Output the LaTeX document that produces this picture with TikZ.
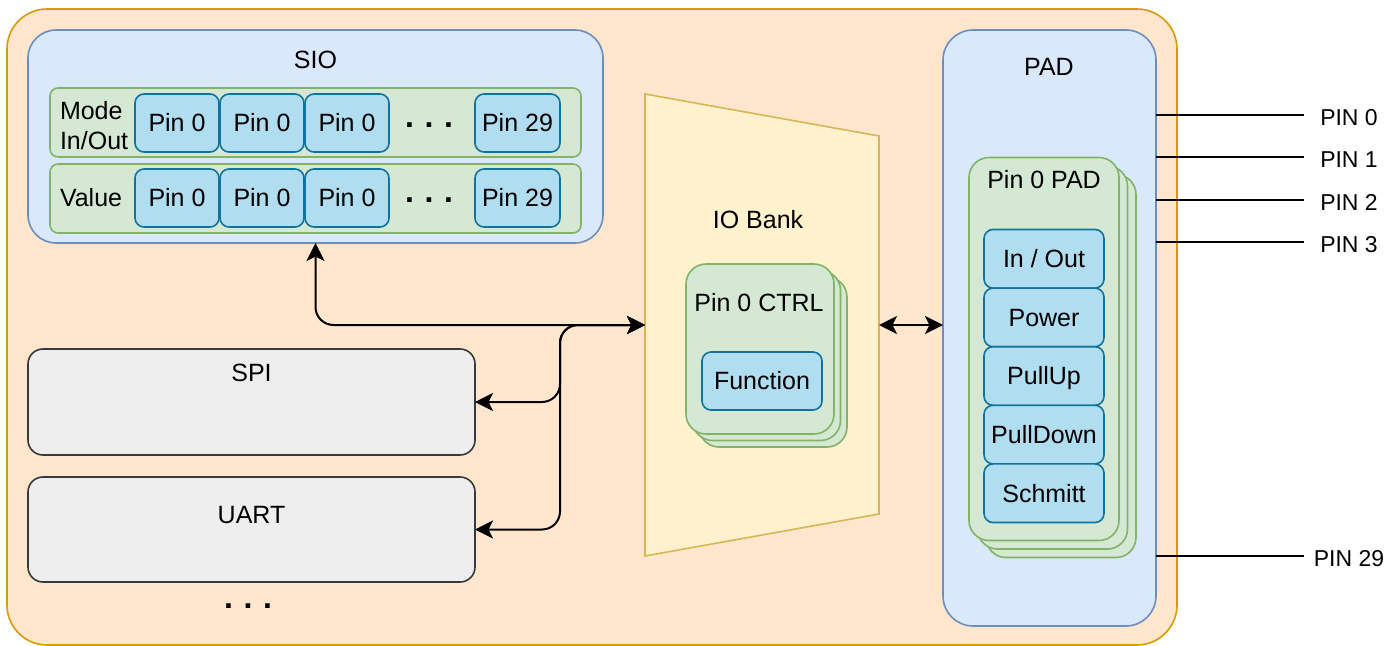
\documentclass[tikz,border=0pt]{standalone}
\usepackage{fontspec}
\setmainfont{Liberation Sans}
\usetikzlibrary{arrows.meta}
\definecolor{orF}{HTML}{FFE6CC}\definecolor{orS}{HTML}{D79B00}
\definecolor{blF}{HTML}{DAE8FC}\definecolor{blS}{HTML}{6C8EBF}
\definecolor{grF}{HTML}{D5E8D4}\definecolor{grS}{HTML}{82B366}
\definecolor{cyF}{HTML}{B1DDF0}\definecolor{cyS}{HTML}{10739E}
\definecolor{gyF}{HTML}{EEEEEE}\definecolor{gyS}{HTML}{36393D}
\definecolor{yeF}{HTML}{FFF2CC}\definecolor{yeS}{HTML}{D6B656}
\begin{document}
\begin{tikzpicture}[x=1pt,y=1pt,
  every node/.style={inner sep=0pt, outer sep=0pt},
  lbl/.style={font=\fontsize{25}{30}\selectfont, text height=17.9pt, text depth=0pt},
  pinlbl/.style={font=\fontsize{23}{28}\selectfont, text height=16.5pt, text depth=0pt},
  dots/.style={font=\fontsize{32}{36}\selectfont\bfseries, anchor=base},
  sz/.style 2 args={minimum width=#1, minimum height=#2},
  orangeb/.style={draw=orS, fill=orF, line width=1.6pt, rounded corners=40pt},
  blueb/.style={draw=blS, fill=blF, line width=1.6pt},
  greenb/.style={draw=grS, fill=grF, line width=1.6pt},
  cyanb/.style={draw=cyS, fill=cyF, line width=1.6pt, rounded corners=9pt},
  greyb/.style={draw=gyS, fill=gyF, line width=1.6pt, rounded corners=15pt},
  yelb/.style={draw=yeS, fill=yeF, line width=1.6pt},
  conn/.style={line width=2pt, rounded corners=18pt},
  wire/.style={line width=2pt},
  >={Stealth[length=18pt,width=18pt,inset=4.5pt]}
]
\useasboundingbox (0,0) rectangle (1388,-645);

% outer container
\node[orangeb, sz={1170pt}{636pt}] (outer) at (592,-327) {};

% SIO
\node[blueb, rounded corners=28pt, sz={575pt}{213pt}] (sio) at (315.5,-136.5) {};
\node[lbl] (siot) at (315.5,-60) {SIO};
\node[greenb, rounded corners=8pt, sz={531pt}{69pt}] (row1) at (315.5,-122.5) {};
\node[greenb, rounded corners=8pt, sz={531pt}{69pt}] (row2) at (315.5,-198.5) {};
\node[lbl, align=left, text height=, text depth=, anchor=west] (model) at (60,-125.5) {Mode\\In/Out};
\node[lbl, anchor=west] (valuel) at (60,-198) {Value};
\node[cyanb, lbl, sz={84pt}{58pt}] (a1) at (177,-123) {Pin 0};
\node[cyanb, lbl, sz={84pt}{58pt}] (a2) at (262,-123) {Pin 0};
\node[cyanb, lbl, sz={84pt}{58pt}] (a3) at (347,-123) {Pin 0};
\node[dots] (ad) at (429,-127) {.\,\,.\,\,.};
\node[cyanb, lbl, sz={85pt}{58pt}] (a29) at (517.5,-123) {Pin 29};
\node[cyanb, lbl, sz={84pt}{58pt}] (b1) at (177,-198) {Pin 0};
\node[cyanb, lbl, sz={84pt}{58pt}] (b2) at (262,-198) {Pin 0};
\node[cyanb, lbl, sz={84pt}{58pt}] (b3) at (347,-198) {Pin 0};
\node[dots] (bd) at (429,-202) {.\,\,.\,\,.};
\node[cyanb, lbl, sz={85pt}{58pt}] (b29) at (517.5,-198) {Pin 29};

% SPI / UART
\node[greyb, sz={447pt}{106pt}] (spi) at (251.5,-402) {};
\node[lbl] (spit) at (251.5,-373) {SPI};
\node[greyb, sz={447pt}{105pt}] (uart) at (251.5,-529.5) {};
\node[lbl] (uartt) at (251.5,-515) {UART};
\node[dots] (ud) at (248,-608) {.\,\,.\,\,.};

% IO Bank
\draw[yelb] (645,-94) -- (879,-136) -- (879,-514) -- (645,-556) -- cycle;
\coordinate (bankW) at (645,-325);
\coordinate (bankE) at (879,-325);
\node[lbl] (bankt) at (758,-220) {IO Bank};
\node[greenb, rounded corners=20pt, sz={148pt}{170pt}] (ctrlb2) at (773,-362) {};
\node[greenb, rounded corners=20pt, sz={148pt}{170pt}] (ctrlb1) at (766.5,-355.5) {};
\node[greenb, rounded corners=20pt, sz={148pt}{170pt}] (ctrl) at (760,-349) {};
\node[lbl] (ctrlt) at (759,-303) {Pin 0 CTRL};
\node[cyanb, lbl, sz={120pt}{58pt}] (func) at (762,-381) {Function};

% PAD
\node[blueb, rounded corners=30pt, sz={213pt}{596pt}] (pad) at (1049.5,-328) {};
\node[lbl] (padt) at (1049,-67) {PAD};
\node[greenb, rounded corners=20pt, sz={150pt}{383pt}] (padb2) at (1061,-366) {};
\node[greenb, rounded corners=20pt, sz={150pt}{383pt}] (padb1) at (1052.5,-357.5) {};
\node[greenb, rounded corners=20pt, sz={150pt}{383pt}] (padf) at (1044,-349) {};
\node[lbl] (padft) at (1044,-180) {Pin 0 PAD};
\node[cyanb, lbl, sz={120pt}{58.6pt}] (io) at (1044,-258.8) {In / Out};
\node[cyanb, lbl, sz={120pt}{58.6pt}] (pw) at (1044,-317.4) {Power};
\node[cyanb, lbl, sz={120pt}{58.6pt}] (pu) at (1044,-376) {PullUp};
\node[cyanb, lbl, sz={120pt}{58.6pt}] (pd) at (1044,-434.6) {PullDown};
\node[cyanb, lbl, sz={120pt}{58.6pt}] (st) at (1044,-493.2) {Schmitt};

% pins
\coordinate (e0) at (1304,-115);
\coordinate (e1) at (1304,-157);
\coordinate (e2) at (1304,-200);
\coordinate (e3) at (1304,-242);
\coordinate (e29) at (1304,-556);
\node[pinlbl] (p0) at (1349,-117) {PIN 0};
\node[pinlbl] (p1) at (1349,-159.5) {PIN 1};
\node[pinlbl] (p2) at (1349,-202) {PIN 2};
\node[pinlbl] (p3) at (1349,-244.5) {PIN 3};
\node[pinlbl] (p29) at (1349,-558) {PIN 29};
\foreach \e in {e0,e1,e2,e3,e29} \draw[wire] (pad.east |- \e) -- (\e);

% connectors
\coordinate (jn) at (560,-325);
\draw[conn,<->] (sio.south) |- (bankW);
\draw[conn,<->] (bankW) -- (jn) |- (spi.east);
\draw[conn,<->] (bankW) -- (jn) |- (uart.east);
\draw[wire,<->] (bankE) -- (pad.west |- bankE);
\end{tikzpicture}
\end{document}
